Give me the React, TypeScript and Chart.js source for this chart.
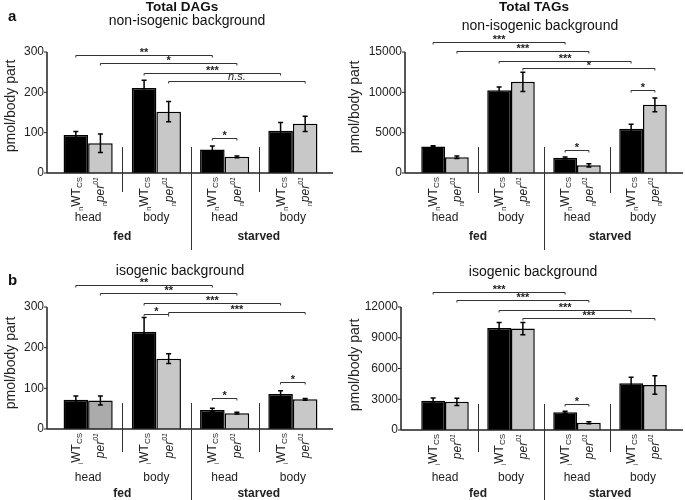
import React, { useEffect, useRef } from "react";
import { Chart, registerables } from "chart.js";
Chart.register(...registerables);

const FONT = "'Liberation Sans', Arial, Helvetica, sans-serif";

const groups = ["head", "body", "head", "body"];
const conditions = ["fed", "starved"];
const seriesNames = ["WT", "per"];

// a, left: Total DAGs, non-isogenic background
const dagNonWT = [94, 211, 58, 105];
const dagNonWTErr = [9, 19, 9, 20];
const dagNonPer = [74, 152, 40, 122];
const dagNonPerErr = [23, 25, 2, 19];
const dagNonTicks = [0, 100, 200, 300];
const dagNonBrackets: [number, number, number, number, number, string][] = [
  [0, 0, 2, 0, 292, "**"],
  [0, 1, 2, 1, 273, "*"],
  [1, 0, 3, 0, 248, "***"],
  [1, 1, 3, 1, 228, "n.s."],
  [2, 0, 2, 1, 87, "*"],
];

// a, right: Total TAGs, non-isogenic background
const tagNonWT = [3280, 10250, 1880, 5500];
const tagNonWTErr = [100, 400, 100, 550];
const tagNonPer = [1950, 11300, 950, 8450];
const tagNonPerErr = [150, 1200, 200, 850];
const tagNonTicks = [0, 5000, 10000, 15000];
const tagNonBrackets: [number, number, number, number, number, string][] = [
  [0, 0, 2, 0, 16200, "***"],
  [0, 1, 2, 1, 15100, "***"],
  [1, 0, 3, 0, 13900, "***"],
  [1, 1, 3, 1, 13000, "*"],
  [2, 0, 2, 1, 2850, "*"],
  [3, 0, 3, 1, 10300, "*"],
];

// b, left: DAGs, isogenic background
const dagIsoWT = [72, 239, 47, 86];
const dagIsoWTErr = [9, 35, 4, 8];
const dagIsoPer = [70, 173, 39, 73];
const dagIsoPerErr = [11, 12, 2, 2];
const dagIsoTicks = [0, 100, 200, 300];
const dagIsoBrackets: [number, number, number, number, number, string][] = [
  [0, 0, 2, 0, 354, "**"],
  [0, 1, 2, 1, 334, "**"],
  [1, 0, 3, 0, 310, "***"],
  [1, 1, 3, 1, 288, "***"],
  [1, 0, 1, 1, 283, "*"],
  [2, 0, 2, 1, 76, "*"],
  [3, 0, 3, 1, 116, "*"],
];

// b, right: TAGs, isogenic background
const tagIsoWT = [2860, 9950, 1730, 4550];
const tagIsoWTErr = [250, 550, 100, 600];
const tagIsoPer = [2750, 9900, 710, 4400];
const tagIsoPerErr = [350, 600, 100, 900];
const tagIsoTicks = [0, 3000, 6000, 9000, 12000];
const tagIsoBrackets: [number, number, number, number, number, string][] = [
  [0, 0, 2, 0, 13500, "***"],
  [0, 1, 2, 1, 12680, "***"],
  [1, 0, 3, 0, 11710, "***"],
  [1, 1, 3, 1, 10930, "***"],
  [2, 0, 2, 1, 2540, "*"],
];

type Panel = {
  x: number; y: number; w: number; h: number;
  wt: number[]; wtErr: number[]; per: number[]; perErr: number[];
  ticks: number[]; brackets: [number, number, number, number, number, string][];
  perColors: string[];
  axisX: number; catLeft: number; catRight: number; axisEnd: number;
  zeroY: number; topTickY: number;
  title?: string; subtitle: string; titleX: number; titleY: number; subX: number; subY: number;
  letter?: string; letterY: number;
  yTitleX: number; yTitleY: number;
  wtPrefix: string; perPrefix: string;
  groupLabelY: number; condLabelY: number; divShortEnd: number; divLongEnd: number;
};

const panels: Panel[] = [
  {
    x: 0, y: 0, w: 340, h: 250,
    wt: dagNonWT, wtErr: dagNonWTErr, per: dagNonPer, perErr: dagNonPerErr,
    ticks: dagNonTicks, brackets: dagNonBrackets,
    perColors: ["#c8c8c8", "#c8c8c8", "#c8c8c8", "#c8c8c8"],
    axisX: 47, catLeft: 54, catRight: 327, axisEnd: 333, zeroY: 173, topTickY: 52,
    title: "Total DAGs", subtitle: "non-isogenic background", titleX: 182, titleY: 7, subX: 187, subY: 21,
    letter: "a", letterY: 17, yTitleX: 11, yTitleY: 106,
    wtPrefix: "n", perPrefix: "n", groupLabelY: 218, condLabelY: 237, divShortEnd: 192, divLongEnd: 250,
  },
  {
    x: 340, y: 0, w: 345, h: 250,
    wt: tagNonWT, wtErr: tagNonWTErr, per: tagNonPer, perErr: tagNonPerErr,
    ticks: tagNonTicks, brackets: tagNonBrackets,
    perColors: ["#c8c8c8", "#c8c8c8", "#c8c8c8", "#c8c8c8"],
    axisX: 65, catLeft: 72, catRight: 336, axisEnd: 343, zeroY: 173, topTickY: 52,
    title: "Total TAGs", subtitle: "non-isogenic background", titleX: 194, titleY: 7, subX: 200, subY: 26,
    yTitleX: 15, yTitleY: 107,
    wtPrefix: "n", perPrefix: "n", groupLabelY: 218, condLabelY: 237, divShortEnd: 193, divLongEnd: 250,
  },
  {
    x: 0, y: 250, w: 340, h: 250,
    wt: dagIsoWT, wtErr: dagIsoWTErr, per: dagIsoPer, perErr: dagIsoPerErr,
    ticks: dagIsoTicks, brackets: dagIsoBrackets,
    perColors: ["#ababab", "#c8c8c8", "#c8c8c8", "#c8c8c8"],
    axisX: 47, catLeft: 54, catRight: 327, axisEnd: 333, zeroY: 179, topTickY: 57,
    subtitle: "isogenic background", titleX: 180, titleY: 0, subX: 180, subY: 21,
    letter: "b", letterY: 31, yTitleX: 11, yTitleY: 113,
    wtPrefix: "i", perPrefix: "", groupLabelY: 228, condLabelY: 244, divShortEnd: 202, divLongEnd: 250,
  },
  {
    x: 340, y: 250, w: 345, h: 250,
    wt: tagIsoWT, wtErr: tagIsoWTErr, per: tagIsoPer, perErr: tagIsoPerErr,
    ticks: tagIsoTicks, brackets: tagIsoBrackets,
    perColors: ["#c8c8c8", "#c8c8c8", "#c8c8c8", "#c8c8c8"],
    axisX: 61, catLeft: 72, catRight: 336, axisEnd: 343, zeroY: 180, topTickY: 57,
    subtitle: "isogenic background", titleX: 193, titleY: 0, subX: 193, subY: 22,
    yTitleX: 15, yTitleY: 115,
    wtPrefix: "i", perPrefix: "", groupLabelY: 228, condLabelY: 244, divShortEnd: 202, divLongEnd: 250,
  },
];

function makePlugin(p: Panel) {
  return {
    id: "decor",
    afterDatasetsDraw(chart: any) {
      const ctx: CanvasRenderingContext2D = chart.ctx;
      const ys = chart.scales.y;
      const xs = chart.scales.x;
      const meta = [chart.getDatasetMeta(0), chart.getDatasetMeta(1)];
      const errs = [p.wtErr, p.perErr];
      const vals = [p.wt, p.per];
      ctx.save();
      // error bars
      ctx.strokeStyle = "#000";
      ctx.lineWidth = 1.5;
      for (let s = 0; s < 2; s++) {
        meta[s].data.forEach((bar: any, i: number) => {
          const x = bar.x;
          const yt = ys.getPixelForValue(vals[s][i] + errs[s][i]);
          const yb = ys.getPixelForValue(vals[s][i] - errs[s][i]);
          ctx.beginPath();
          ctx.moveTo(x, yt); ctx.lineTo(x, yb);
          ctx.moveTo(x - 2.5, yt); ctx.lineTo(x + 2.5, yt);
          ctx.moveTo(x - 2.5, yb); ctx.lineTo(x + 2.5, yb);
          ctx.stroke();
        });
      }
      // axes
      const y0 = ys.getPixelForValue(0);
      const yTop = ys.getPixelForValue(p.ticks[p.ticks.length - 1]);
      ctx.lineWidth = 1.5;
      ctx.strokeStyle = "#222";
      ctx.beginPath();
      ctx.moveTo(p.axisX, yTop); ctx.lineTo(p.axisX, y0);
      ctx.moveTo(p.axisX, y0); ctx.lineTo(p.axisEnd, y0);
      ctx.stroke();
      ctx.lineWidth = 1;
      ctx.fillStyle = "#222";
      ctx.font = `12px ${FONT}`;
      ctx.textAlign = "right";
      ctx.textBaseline = "middle";
      p.ticks.forEach((t) => {
        const yy = ys.getPixelForValue(t);
        ctx.beginPath();
        ctx.moveTo(p.axisX - 3, yy); ctx.lineTo(p.axisX, yy);
        ctx.stroke();
        ctx.fillText(String(t), p.axisX - 3, yy);
      });
      // brackets
      ctx.strokeStyle = "#333";
      ctx.lineWidth = 1;
      ctx.textAlign = "center";
      ctx.textBaseline = "bottom";
      p.brackets.forEach(([g1, s1, g2, s2, v, lab]) => {
        const xa = meta[s1].data[g1].x;
        const xb = meta[s2].data[g2].x;
        const yy = Math.round(ys.getPixelForValue(v)) + 0.5;
        ctx.beginPath();
        ctx.moveTo(xa, yy + 2); ctx.lineTo(xa, yy); ctx.lineTo(xb, yy); ctx.lineTo(xb, yy + 2);
        ctx.stroke();
        if (lab === "n.s.") {
          ctx.font = `italic 11px ${FONT}`;
          ctx.fillText(lab, (xa + xb) / 2, yy + 1);
        } else {
          ctx.font = `bold 11px ${FONT}`;
          ctx.fillText(lab, (xa + xb) / 2, yy + 3);
        }
      });
      // dividers
      ctx.strokeStyle = "#333";
      ctx.lineWidth = 1;
      for (let g = 0; g < 3; g++) {
        const xm = Math.round((xs.getPixelForValue(g) + xs.getPixelForValue(g + 1)) / 2) + 0.5;
        ctx.beginPath();
        ctx.moveTo(xm, y0 - 26);
        ctx.lineTo(xm, g === 1 ? p.divLongEnd : p.divShortEnd);
        ctx.stroke();
      }
      // rotated genotype labels
      for (let s = 0; s < 2; s++) {
        meta[s].data.forEach((bar: any) => {
          const parts: [string, string, number][] = s === 0
            ? [[p.wtPrefix, `7px ${FONT}`, 3], ["WT", `12px ${FONT}`, 0], ["CS", `8px ${FONT}`, 2]]
            : [[p.perPrefix, `7px ${FONT}`, 3], ["per", `italic 12px ${FONT}`, 0], ["01", `italic 7px ${FONT}`, -6]];
          let total = 0;
          const widths = parts.map(([t, f]) => { ctx.font = f; const w = ctx.measureText(t).width; total += w; return w; });
          ctx.save();
          ctx.translate(bar.x + 4, y0 + 4);
          ctx.rotate(-Math.PI / 2);
          ctx.textAlign = "left";
          ctx.textBaseline = "alphabetic";
          ctx.fillStyle = "#222";
          let cx = -total;
          parts.forEach(([t, f, dy], k) => {
            ctx.font = f;
            ctx.fillText(t, cx, dy);
            cx += widths[k];
          });
          ctx.restore();
        });
      }
      // group labels
      ctx.fillStyle = "#222";
      ctx.textAlign = "center";
      ctx.textBaseline = "middle";
      ctx.font = `12px ${FONT}`;
      groups.forEach((g, i) => ctx.fillText(g, xs.getPixelForValue(i), p.groupLabelY));
      ctx.font = `bold 12px ${FONT}`;
      conditions.forEach((c, i) => {
        const xm = (xs.getPixelForValue(2 * i) + xs.getPixelForValue(2 * i + 1)) / 2;
        ctx.fillText(c, xm, p.condLabelY);
      });
      // titles
      ctx.fillStyle = "#111";
      if (p.title) {
        ctx.font = `bold 13.5px ${FONT}`;
        ctx.fillText(p.title, p.titleX, p.titleY);
      }
      ctx.font = `14px ${FONT}`;
      ctx.fillText(p.subtitle, p.subX, p.subY);
      if (p.letter) {
        ctx.font = `bold 15px ${FONT}`;
        ctx.textAlign = "left";
        ctx.fillText(p.letter, 8, p.letterY);
      }
      // y title
      ctx.save();
      ctx.translate(p.yTitleX, p.yTitleY);
      ctx.rotate(-Math.PI / 2);
      ctx.textAlign = "center";
      ctx.textBaseline = "middle";
      ctx.font = `14px ${FONT}`;
      ctx.fillStyle = "#222";
      ctx.fillText("pmol/body part", 0, 0);
      ctx.restore();
      ctx.restore();
    },
  };
}

function PanelChart({ p }: { p: Panel }) {
  const ref = useRef<HTMLCanvasElement>(null);
  useEffect(() => {
    const topTick = p.ticks[p.ticks.length - 1];
    const yMax = (topTick * p.zeroY) / (p.zeroY - p.topTickY);
    const chart = new Chart(ref.current!, {
      type: "bar",
      data: {
        labels: groups,
        datasets: [
          { label: seriesNames[0], data: p.wt, backgroundColor: "#000", borderColor: "#000", borderWidth: 1.5, categoryPercentage: 0.72, barPercentage: 1 },
          { label: seriesNames[1], data: p.per, backgroundColor: p.perColors, borderColor: "#000", borderWidth: 1.5, categoryPercentage: 0.72, barPercentage: 1 },
        ],
      },
      options: {
        responsive: false,
        animation: false,
        layout: { padding: { left: p.catLeft, right: p.w - p.catRight, top: 0, bottom: p.h - p.zeroY } },
        plugins: { legend: { display: false }, tooltip: { enabled: false }, title: { display: false } },
        scales: {
          x: { display: false },
          y: { display: false, min: 0, max: yMax },
        },
      },
      plugins: [makePlugin(p)],
    });
    return () => chart.destroy();
  }, [p]);
  return (
    <canvas
      ref={ref}
      width={p.w}
      height={p.h}
      style={{ position: "absolute", left: p.x, top: p.y, width: p.w, height: p.h }}
    />
  );
}

export default function App() {
  return (
    <div style={{ position: "fixed", left: 0, top: 0, width: 685, height: 500, background: "#fff", overflow: "hidden" }}>
      {panels.map((p, i) => (
        <PanelChart key={i} p={p} />
      ))}
    </div>
  );
}
